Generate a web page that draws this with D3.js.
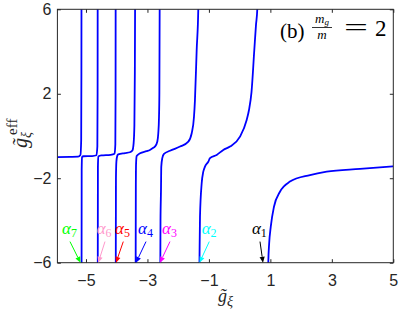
<!DOCTYPE html>
<html>
<head>
<meta charset="utf-8">
<script src="https://cdn.jsdelivr.net/npm/d3@7"></script>
<style>
  body { margin: 0; background: #fff; }
  svg { display: block; }
  .tick text { font-family: "Liberation Sans", Arial, sans-serif; font-size: 16px; fill: #262626; }
  .serif { font-family: "Liberation Serif", "Times New Roman", serif; }
</style>
</head>
<body>
<div id="chart"></div>
<script>
/**
 * DATA
 * */
// each branch of g_eff(g) between two poles, as [g, g_eff]
const seg0 = [[-5.93, -1.0], [-5.52, -0.99], [-5.26, -0.98], [-5.18, -0.9], [-5.156, -0.19], [-5.149, 3], [-5.146, 7]];
const seg1 = [[-5.144, -7], [-5.14, -1.6], [-5.13, -1.0], [-5.08, -0.96], [-4.8, -0.95], [-4.66, -0.91], [-4.63, -0.5], [-4.622, 2], [-4.619, 7]];
const seg2 = [[-4.617, -7], [-4.612, -1.5], [-4.6, -0.97], [-4.5, -0.92], [-4.2, -0.89], [-4.07, -0.84], [-4.045, -0.4], [-4.037, 2], [-4.034, 7]];
const seg3 = [[-4.032, -7], [-4.025, -2], [-4.01, -1.2], [-3.98, -0.93], [-3.95, -0.87], [-3.73, -0.81], [-3.57, -0.77], [-3.49, -0.69], [-3.45, -0.35], [-3.425, 0.5], [-3.41, 3], [-3.4, 7]];
const seg4 = [[-3.385, -7], [-3.378, -2.5], [-3.37, -1.3], [-3.35, -0.95], [-3.24, -0.82], [-3.03, -0.72], [-2.92, -0.66], [-2.81, -0.56], [-2.755, -0.5], [-2.68, -0.27], [-2.647, 0.13], [-2.624, 0.9], [-2.612, 2], [-2.6, 7]];
const seg5 = [[-2.584, -7], [-2.575, -4], [-2.559, -2.55], [-2.55, -1.45], [-2.517, -1.05], [-2.462, -0.85], [-2.267, -0.7], [-1.94, -0.5], [-1.67, -0.27], [-1.56, 0.13], [-1.486, 0.9], [-1.454, 1.7], [-1.398, 4.07], [-1.346, 6], [-1.335, 7]];
const seg6 = [[-1.315, -7], [-1.307, -5.95], [-1.29, -3.82], [-1.235, -2.24], [-1.183, -1.69], [-1.128, -1.45], [-1.02, -1.22], [-0.965, -1.05], [-0.747, -0.9], [-0.532, -0.66], [-0.314, -0.5], [0.012, -0.03], [0.229, 0.76], [0.304, 1.23], [0.386, 2.08], [0.477, 4.07], [0.532, 5.26], [0.574, 6], [0.59, 7]];
const seg7 = [[0.925, -7], [0.932, -6], [0.96, -5.1], [1.013, -4.29], [1.117, -3.35], [1.312, -2.64], [1.638, -2.16], [2.289, -1.85], [2.832, -1.69], [3.917, -1.56], [5.0, -1.44]];
const segments = [seg0, seg1, seg2, seg3, seg4, seg5, seg6, seg7];

// alpha_n markers: where the arrow hits the axis, where it starts, where the label starts (g units)
const alphaNames = ["1", "2", "3", "4", "5", "6", "7"];
const alphaColors = ["#000000", "#00ffff", "#ff00ff", "#0000ff", "#ff0000", "#ff99cc", "#00ff00"];
const alphaTip = [0.76, -1.307, -2.592, -3.373, -4.024, -4.6, -5.179];
const alphaTail = [0.662, -0.988, -2.267, -3.047, -3.786, -4.382, -5.521];
const alphaLabel = [0.40, -1.235, -2.527, -3.308, -4.056, -4.652, -5.78];

const xTicks = [-5, -3, -1, 1, 3, 5];
const yTicks = [-6, -2, 2, 6];

/**
 * LAYOUT
 * */
const width = 401, height = 321,
  margin = { top: 9.3, right: 7.7, bottom: 58.3, left: 57.4 };
const axisColor = "#262626";

const svg = d3.select("#chart").append("svg")
  .attr("width", width)
  .attr("height", height);

const xScale = d3.scaleLinear().domain([-5.93, 5]).range([margin.left, width - margin.right]);
const yScale = d3.scaleLinear().domain([-6, 6]).range([height - margin.bottom, margin.top]);

svg.append("clipPath").attr("id", "plot-clip")
  .append("rect")
  .attr("x", margin.left).attr("y", margin.top)
  .attr("width", width - margin.left - margin.right)
  .attr("height", height - margin.top - margin.bottom);

// curves
const line = d3.line()
  .x(d => xScale(d[0]))
  .y(d => yScale(d[1]))
  .curve(d3.curveMonotoneX);

svg.append("g").attr("clip-path", "url(#plot-clip)")
  .selectAll("path")
  .data(segments)
  .join("path")
  .attr("d", line)
  .attr("fill", "none")
  .attr("stroke", "#0000ff")
  .attr("stroke-width", 1.8);

// axes (ticks point inward, box all round)
const tick = 3.5;
svg.append("g")
  .attr("transform", `translate(0,${height - margin.bottom})`)
  .call(d3.axisBottom(xScale).tickValues(xTicks).tickSizeInner(-tick).tickSizeOuter(0).tickPadding(12).tickFormat(d3.format("d")))
  .call(g => g.select(".domain").remove());
svg.append("g")
  .attr("transform", `translate(0,${margin.top})`)
  .call(d3.axisTop(xScale).tickValues(xTicks).tickSizeInner(-tick).tickSizeOuter(0).tickFormat(""))
  .call(g => g.select(".domain").remove());
svg.append("g")
  .attr("transform", `translate(${margin.left},0)`)
  .call(d3.axisLeft(yScale).tickValues(yTicks).tickSizeInner(-tick).tickSizeOuter(0).tickPadding(6).tickFormat(d3.format("d")))
  .call(g => g.select(".domain").remove());
svg.append("g")
  .attr("transform", `translate(${width - margin.right},0)`)
  .call(d3.axisRight(yScale).tickValues(yTicks).tickSizeInner(-tick).tickSizeOuter(0).tickFormat(""))
  .call(g => g.select(".domain").remove());
svg.selectAll(".tick line").attr("stroke", axisColor);

svg.append("rect")
  .attr("x", margin.left).attr("y", margin.top)
  .attr("width", width - margin.left - margin.right)
  .attr("height", height - margin.top - margin.bottom)
  .attr("fill", "none")
  .attr("stroke", axisColor)
  .attr("stroke-width", 1);

// alpha annotations
const yAxisY = yScale(-6);
const tailY = yScale(-5.0);
const ann = svg.append("g");
alphaNames.forEach((name, i) => {
  const x1 = xScale(alphaTail[i]), y1 = tailY;
  const x2 = xScale(alphaTip[i]), y2 = yAxisY;
  const ang = Math.atan2(y2 - y1, x2 - x1);
  const hl = 6, hw = 2.6;
  const bx = x2 - hl * Math.cos(ang), by = y2 - hl * Math.sin(ang);
  ann.append("line")
    .attr("x1", x1).attr("y1", y1).attr("x2", bx).attr("y2", by)
    .attr("stroke", alphaColors[i]).attr("stroke-width", 1);
  ann.append("path")
    .attr("d", `M${x2},${y2}L${bx - hw * Math.sin(ang)},${by + hw * Math.cos(ang)}L${bx + hw * Math.sin(ang)},${by - hw * Math.cos(ang)}Z`)
    .attr("fill", alphaColors[i]);
  const t = ann.append("text")
    .attr("class", "serif")
    .attr("x", xScale(alphaLabel[i]))
    .attr("y", 233.5)
    .attr("fill", alphaColors[i])
    .style("font-style", "italic")
    .style("font-size", "17px");
  t.append("tspan").text("α");
  t.append("tspan").attr("dy", 3.5).style("font-size", "12px").style("font-style", "normal").text(name);
});

// axis labels
const xl = svg.append("text")
  .attr("class", "serif")
  .attr("x", 218).attr("y", 302)
  .attr("fill", axisColor)
  .style("font-size", "18px");
xl.append("tspan").style("font-style", "italic").text("g\u0303");
xl.append("tspan").attr("dy", 3.5).style("font-style", "italic").style("font-size", "14px").text("ξ");

const yl = svg.append("text")
  .attr("class", "serif")
  .attr("transform", "translate(27,148) rotate(-90)")
  .attr("fill", axisColor)
  .style("font-size", "20px");
yl.append("tspan").style("font-style", "italic").text("g\u0303");
yl.append("tspan").attr("dy", 4).style("font-style", "italic").style("font-size", "14px").text("ξ");
yl.append("tspan").attr("dx", -3).attr("dy", -14).style("font-size", "15px").text("eff");

// panel title: (b) m_g / m = 2
const title = svg.append("g").attr("class", "serif").attr("fill", "#000");
title.append("text").attr("x", 280).attr("y", 38).style("font-size", "21px").text("(b)");
const num = title.append("text").attr("x", 322).attr("y", 23).attr("text-anchor", "middle").style("font-size", "13px");
num.append("tspan").style("font-style", "italic").text("m");
num.append("tspan").attr("dy", 1.5).style("font-style", "italic").style("font-size", "9px").text("g");
title.append("line").attr("x1", 312).attr("x2", 332).attr("y1", 27.5).attr("y2", 27.5).attr("stroke", "#000").attr("stroke-width", 0.8);
title.append("text").attr("x", 322).attr("y", 38.5).attr("text-anchor", "middle").style("font-size", "13px").style("font-style", "italic").text("m");
title.append("text").attr("x", 344).attr("y", 35).attr("textLength", 24).attr("lengthAdjust", "spacingAndGlyphs").style("font-size", "24px").text("=");
title.append("text").attr("x", 375).attr("y", 36).style("font-size", "23px").text("2");
</script>
</body>
</html>
